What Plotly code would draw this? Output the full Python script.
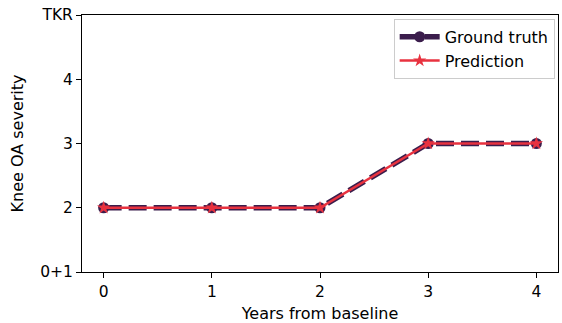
import plotly.graph_objects as go

years = [0, 1, 2, 3, 4]
ground_truth = [2, 2, 2, 3, 3]
prediction = [2, 2, 2, 3, 3]
ytick_vals = [1, 2, 3, 4, 5]
ytick_text = ["0+1", "2", "3", "4", "TKR"]

FONT = "DejaVu Sans"

fig = go.Figure()
fig.add_trace(go.Scatter(
    x=years, y=ground_truth, name="Ground truth", mode="lines+markers",
    line=dict(color="#3b1d4c", width=5.5, dash="18px,7px"),
    marker=dict(symbol="circle", size=11, color="#3b1d4c"),
))
fig.add_trace(go.Scatter(
    x=years, y=prediction, name="Prediction", mode="lines+markers",
    line=dict(color="#e8323f", width=2.5),
    marker=dict(symbol="star", size=10, color="#e8323f"),
))

axis_common = dict(
    showgrid=False, zeroline=False, showline=True, linecolor="black", linewidth=1,
    mirror=True, ticks="outside", ticklen=5, tickcolor="black",
    tickfont=dict(family=FONT, size=15.5, color="black"),
)
fig.update_xaxes(range=[-0.2, 4.2], tickvals=years,
                 title=dict(text="Years from baseline", font=dict(family=FONT, size=16, color="black"), standoff=8),
                 **axis_common)
fig.update_yaxes(range=[1, 5], tickvals=ytick_vals, ticktext=ytick_text,
                 title=dict(text="Knee OA severity", font=dict(family=FONT, size=16, color="black"), standoff=12),
                 **axis_common)

fig.update_layout(
    width=562, height=323,
    margin=dict(l=82, r=4, t=15, b=51),
    plot_bgcolor="white", paper_bgcolor="white",
    font=dict(family=FONT, size=16, color="black"),
    legend=dict(x=0.993, y=0.985, xanchor="right", yanchor="top",
                bordercolor="#cccccc", borderwidth=1, bgcolor="white",
                itemwidth=40,
                font=dict(family=FONT, size=16, color="black")),
)
fig.write_html("out.html")
